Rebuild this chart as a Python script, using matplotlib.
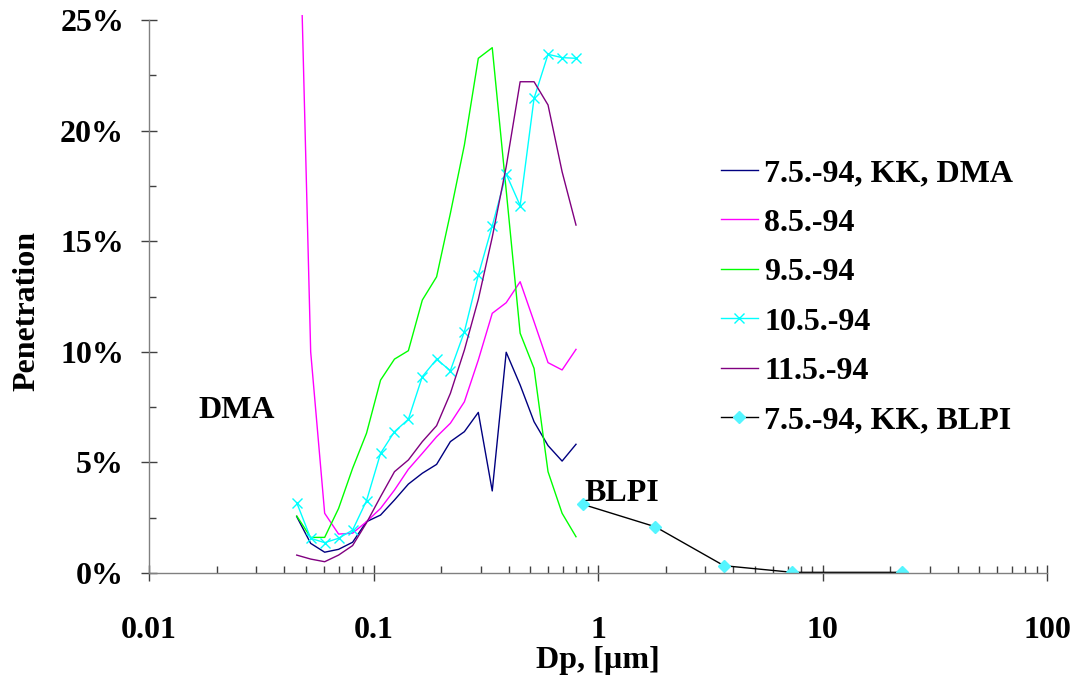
import matplotlib
matplotlib.use('Agg')
import matplotlib.pyplot as plt
from matplotlib.ticker import FixedLocator, NullFormatter

# particle diameters of the DMA size channels, um
dp_dma = [0.0455, 0.0525, 0.0606, 0.0699, 0.0807, 0.0931, 0.1075, 0.124, 0.143,
          0.165, 0.191, 0.220, 0.254, 0.293, 0.338, 0.390, 0.450, 0.519, 0.599,
          0.692, 0.798]

# penetration, %
pen_0705 = [2.55, 1.34, 0.94, 1.07, 1.39, 2.32, 2.62, 3.30, 4.02, 4.51, 4.91,
            5.94, 6.39, 7.26, 3.71, 9.98, 8.50, 6.84, 5.76, 5.06, 5.82]
pen_0805 = [35.0, 10.0, 2.70, 1.76, 1.80, 2.32, 2.92, 3.75, 4.69, 5.41, 6.16,
            6.77, 7.74, 9.63, 11.74, 12.22, 13.17, 11.36, 9.51, 9.18, 10.11]
pen_0905 = [2.58, 1.61, 1.61, 2.92, 4.73, 6.32, 8.72, 9.67, 10.05, 12.34, 13.39,
            16.26, 19.35, 23.27, 23.75, 17.3, 10.84, 9.25, 4.58, 2.70, 1.64]
pen_1005 = [3.18, 1.57, 1.37, 1.57, 1.94, 3.27, 5.41, 6.39, 6.95, 8.88, 9.66,
            9.15, 10.91, 13.47, 15.69, 18.04, 16.61, 21.46, 23.45, 23.30, 23.27]
pen_1105 = [0.81, 0.63, 0.51, 0.81, 1.24, 2.27, 3.45, 4.58, 5.11, 5.94, 6.66,
            8.12, 10.08, 12.37, 15.18, 18.37, 22.21, 22.21, 21.16, 18.14, 15.73]

# BLPI impactor stages
dp_blpi = [0.858, 1.80, 3.64, 7.35, 22.7]
pen_blpi = [3.10, 2.09, 0.33, 0.03, 0.03]

x_ticks = [0.01, 0.1, 1, 10, 100]
x_tick_labels = ['0.01', '0.1', '1', '10', '100']
y_ticks = [0, 5, 10, 15, 20, 25]
y_tick_labels = ['0%', '5%', '10%', '15%', '20%', '25%']

plt.rcParams['font.family'] = ['Liberation Serif', 'DejaVu Serif']
plt.rcParams['font.weight'] = 'bold'
fs = 23

fig = plt.figure(figsize=(10.82, 6.82), dpi=100)
ax = fig.add_axes([149 / 1082, 109 / 682, 898 / 1082, 558.5 / 682])

lw = 1.0
ax.plot(dp_dma, pen_0705, color='#000080', lw=lw, label='7.5.-94, KK, DMA')
ax.plot(dp_dma, pen_0805, color='#ff00ff', lw=lw, label='8.5.-94')
ax.plot(dp_dma, pen_0905, color='#00ff00', lw=lw, label='9.5.-94')
ax.plot(dp_dma, pen_1005, color='#00ffff', lw=lw, marker='x', ms=7, mew=1.0,
        label='10.5.-94')
ax.plot(dp_dma, pen_1105, color='#800080', lw=lw, label='11.5.-94')
ax.plot(dp_blpi, pen_blpi, color='black', lw=lw, marker='D', ms=6,
        mfc='#55f5ff', mec='#55f5ff', label='7.5.-94, KK, BLPI')

ax.set_xscale('log')
ax.set_xlim(0.01, 100)
ax.set_ylim(0, 25.25)

# axes, ticks
for s in ['top', 'right']:
    ax.spines[s].set_visible(False)
for s in ['left', 'bottom']:
    ax.spines[s].set_color('#808080')
    ax.spines[s].set_linewidth(1.0)
ax.spines['left'].set_bounds(0, 25)

ax.xaxis.set_major_locator(FixedLocator(x_ticks))
ax.set_xticklabels(x_tick_labels)
ax.xaxis.set_minor_locator(FixedLocator(
    [m * d for d in [0.01, 0.1, 1, 10] for m in range(2, 10)]))
ax.xaxis.set_minor_formatter(NullFormatter())
ax.set_yticks(y_ticks)
ax.set_yticklabels(y_tick_labels)
ax.yaxis.set_minor_locator(FixedLocator([2.5, 7.5, 12.5, 17.5, 22.5]))

ax.tick_params(which='major', direction='inout', length=12, width=1.0,
               color='#404040', labelsize=fs)
ax.tick_params(axis='x', which='major', pad=25)
ax.tick_params(axis='y', which='major', pad=12)
ax.tick_params(which='minor', direction='in', length=5, width=1.0, color='#404040')
for lab in ax.get_xticklabels() + ax.get_yticklabels():
    lab.set_fontweight('bold')

ax.set_xlabel('Dp, [µm]', fontsize=fs, fontweight='bold', labelpad=1)
ax.set_ylabel('Penetration', fontsize=fs, fontweight='bold')
ax.yaxis.set_label_coords(-0.12, 0.47)

ax.text(0.0166, 7.35, 'DMA', fontsize=fs, fontweight='bold', va='center')
ax.text(0.87, 3.6, 'BLPI', fontsize=fs, fontweight='bold', va='center')

fig.legend(loc='upper left', bbox_to_anchor=(692 / 1082, 1 - 130 / 682),
           frameon=False, prop={'size': fs, 'weight': 'bold'},
           handlelength=1.16, handletextpad=0.2, labelspacing=0.63,
           borderpad=0.4)

fig.savefig('out.png', dpi=100)
